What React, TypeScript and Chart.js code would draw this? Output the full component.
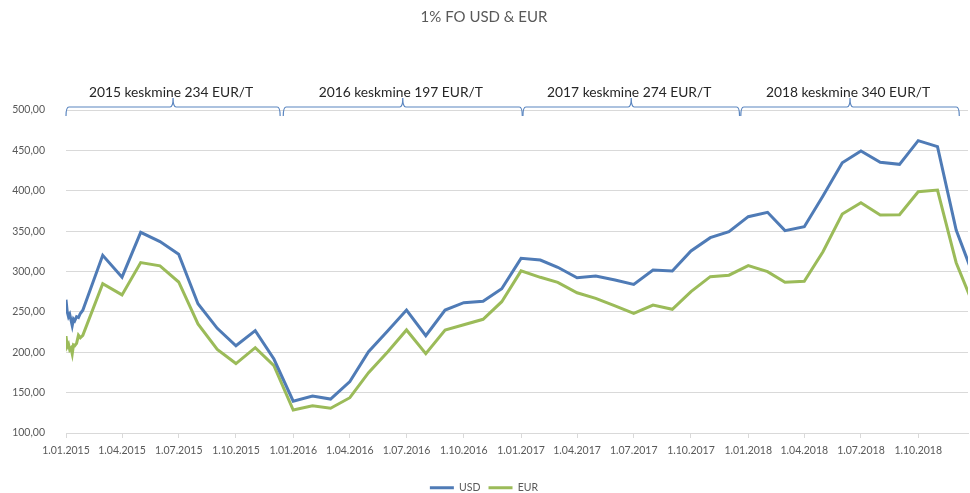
import React, { useEffect, useRef } from "react";
import { Chart, registerables } from "chart.js";

Chart.register(...registerables);

const titleText = "1% FO USD & EUR";
const seriesNames = ["USD", "EUR"];
const seriesColors = ["#4f7bb6", "#9bbb59"];

const dates = [
  "2015-01-01", "2015-01-03", "2015-01-05", "2015-01-07", "2015-01-09", "2015-01-11",
  "2015-01-13", "2015-01-15", "2015-01-18", "2015-01-21", "2015-01-24", "2015-01-28",
  "2015-03-01", "2015-04-01", "2015-05-01", "2015-06-01", "2015-07-01", "2015-08-01",
  "2015-09-01", "2015-10-01", "2015-11-01", "2015-12-01",
  "2016-01-01", "2016-02-01", "2016-03-01", "2016-04-01", "2016-05-01", "2016-06-01",
  "2016-07-01", "2016-08-01", "2016-09-01", "2016-10-01", "2016-11-01", "2016-12-01",
  "2017-01-01", "2017-02-01", "2017-03-01", "2017-04-01", "2017-05-01", "2017-06-01",
  "2017-07-01", "2017-08-01", "2017-09-01", "2017-10-01", "2017-11-01", "2017-12-01",
  "2018-01-01", "2018-02-01", "2018-03-01", "2018-04-01", "2018-05-01", "2018-06-01",
  "2018-07-01", "2018-08-01", "2018-09-01", "2018-10-01", "2018-11-01", "2018-12-01",
  "2019-01-01",
];

const usdValues = [
  265, 250, 244, 247, 240, 233, 241, 239, 244, 243, 248, 252,
  320, 293, 348.5, 337, 321.5, 260, 229.6, 208, 226.7, 191.6,
  139.5, 145.8, 142, 163.6, 200.7, 226.7, 252.3, 220.5, 252.3, 261.4, 263.1, 278.7,
  316.3, 314.2, 305.2, 292.3, 294.4, 289.5, 284.1, 301.9, 300.6, 325.4, 341.9, 349.3,
  367.9, 373.3, 350.6, 355.5, 393.5, 434.7, 449.2, 435.2, 432.7, 462, 454.6, 351.4,
  288,
];

const eurValues = [
  220, 207, 210, 203, 205, 198, 209, 208, 211, 221, 218, 221,
  285, 271, 311, 307, 287, 235, 203.6, 186, 205.7, 183.4,
  128.5, 133.6, 130.6, 143.7, 174.7, 200.7, 227.6, 198.2, 227.6, 234.1, 240.8, 262.6,
  300.8, 292.8, 286.6, 273.7, 266.8, 257.3, 248.2, 258.5, 253.2, 275, 293.6, 295.4,
  307.2, 299.8, 286.6, 287.8, 324.5, 371.2, 385.2, 370, 370.3, 398.8, 400.9, 310.9,
  252,
];

const quarterTicks = [
  "2015-01-01", "2015-04-01", "2015-07-01", "2015-10-01",
  "2016-01-01", "2016-04-01", "2016-07-01", "2016-10-01",
  "2017-01-01", "2017-04-01", "2017-07-01", "2017-10-01",
  "2018-01-01", "2018-04-01", "2018-07-01", "2018-10-01",
];

const axisStart = "2015-01-01";
const axisEnd = "2018-12-20";
const yMin = 100;
const yMax = 500;
const yStep = 50;

const braceLabels = [
  "2015 keskmine 234 EUR/T",
  "2016 keskmine 197 EUR/T",
  "2017 keskmine 274 EUR/T",
  "2018 keskmine 340 EUR/T",
];
const braceStarts = ["2015-01-01", "2015-12-16", "2017-01-04", "2017-12-20"];
const braceEnds = ["2015-12-11", "2017-01-03", "2017-12-18", "2018-12-06"];

const FONT = "Lato, 'Open Sans', sans-serif";

function toDay(s: string): number {
  const [y, m, d] = s.split("-").map(Number);
  const [y0, m0, d0] = axisStart.split("-").map(Number);
  return (Date.UTC(y, m - 1, d) - Date.UTC(y0, m0 - 1, d0)) / 86400000;
}

function fmtDate(s: string): string {
  const [y, m, d] = s.split("-").map(Number);
  return `${d}.${String(m).padStart(2, "0")}.${y}`;
}

const bracePlugin = {
  id: "braces",
  afterDraw(chart: any) {
    const ctx = chart.ctx;
    const xs = chart.scales.x;
    const yLine = 107;
    ctx.save();
    ctx.strokeStyle = "#5b86c0";
    ctx.lineWidth = 1.2;
    for (let i = 0; i < braceLabels.length; i++) {
      const x0 = xs.getPixelForValue(toDay(braceStarts[i]));
      const x1 = xs.getPixelForValue(toDay(braceEnds[i]));
      const xm = (x0 + x1) / 2;
      const r = 3;
      ctx.beginPath();
      ctx.moveTo(x0, yLine + 9);
      ctx.quadraticCurveTo(x0, yLine, x0 + r, yLine);
      ctx.lineTo(xm - r, yLine);
      ctx.quadraticCurveTo(xm, yLine, xm, yLine - 9);
      ctx.quadraticCurveTo(xm, yLine, xm + r, yLine);
      ctx.lineTo(x1 - r, yLine);
      ctx.quadraticCurveTo(x1, yLine, x1, yLine + 9);
      ctx.stroke();
      ctx.fillStyle = "#262626";
      ctx.font = `13.8px ${FONT}`;
      ctx.textAlign = "center";
      ctx.textBaseline = "middle";
      ctx.fillText(braceLabels[i], xm - 2, 93);
    }
    ctx.restore();
  },
};

export default function App() {
  const canvasRef = useRef<HTMLCanvasElement | null>(null);

  useEffect(() => {
    if (!canvasRef.current) return;
    Chart.defaults.font.family = FONT;
    const chart = new Chart(canvasRef.current, {
      type: "line",
      data: {
        datasets: [
          {
            label: seriesNames[0],
            data: dates.map((d, i) => ({ x: toDay(d), y: usdValues[i] })),
            borderColor: seriesColors[0],
            backgroundColor: seriesColors[0],
            borderWidth: 3,
            pointRadius: 0,
            tension: 0,
          },
          {
            label: seriesNames[1],
            data: dates.map((d, i) => ({ x: toDay(d), y: eurValues[i] })),
            borderColor: seriesColors[1],
            backgroundColor: seriesColors[1],
            borderWidth: 3,
            pointRadius: 0,
            tension: 0,
          },
        ],
      },
      options: {
        responsive: false,
        animation: false,
        layout: { padding: { left: 0, right: 2, top: 0, bottom: -10 } },
        plugins: {
          title: {
            display: true,
            text: titleText,
            color: "#595959",
            font: { size: 15, weight: "normal" },
            padding: { top: 8, bottom: 84 },
          },
          legend: {
            position: "bottom",
            labels: {
              usePointStyle: true,
              pointStyle: "line",
              pointStyleWidth: 24,
              color: "#595959",
              font: { size: 10.5 },
              padding: 8,
            },
          },
          tooltip: { enabled: false },
        },
        scales: {
          x: {
            type: "linear",
            min: toDay(axisStart),
            max: toDay(axisEnd),
            afterBuildTicks: (scale: any) => {
              scale.ticks = quarterTicks.map((s) => ({ value: toDay(s) }));
            },
            afterFit: (scale: any) => {
              scale.height = 41.5;
            },
            ticks: {
              autoSkip: false,
              maxRotation: 0,
              color: "#595959",
              font: { size: 10.5 },
              padding: 6,
              callback: (_v: any, i: number) => fmtDate(quarterTicks[i]),
            },
            grid: {
              display: true,
              drawOnChartArea: false,
              drawTicks: true,
              tickLength: 5,
              color: "#d9d9d9",
            },
            border: { display: true, color: "#d9d9d9" },
          },
          y: {
            min: yMin,
            max: yMax,
            afterFit: (scale: any) => {
              scale.width = 66;
            },
            ticks: {
              stepSize: yStep,
              color: "#595959",
              font: { size: 10.5 },
              padding: 21,
              callback: (v: any) => Number(v).toFixed(2).replace(".", ","),
            },
            grid: { color: "#d9d9d9", drawTicks: false },
            border: { display: false },
          },
        },
      },
      plugins: [bracePlugin],
    } as any);
    return () => chart.destroy();
  }, []);

  return (
    <div style={{ position: "absolute", left: 0, top: 0, width: 970, height: 493, background: "#fff" }}>
      <canvas ref={canvasRef} width={970} height={493} style={{ width: 970, height: 493 }} />
    </div>
  );
}
